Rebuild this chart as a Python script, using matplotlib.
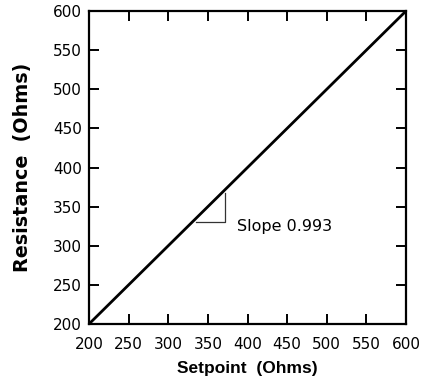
import matplotlib
matplotlib.use("Agg")
import matplotlib.pyplot as plt

setpoint = [200, 600]
resistance = [200, 600]
tri_x = [335, 372, 372]
tri_y = [330, 330, 368]
slope_label = "Slope 0.993"
ticks = [200, 250, 300, 350, 400, 450, 500, 550, 600]

plt.rcParams['font.family'] = ['DejaVu Sans']

fig = plt.figure(figsize=(4.23, 3.84), dpi=100)
ax = fig.add_axes([89/423, 1-324/384, (406-89)/423, (324-11)/384])

ax.plot(setpoint, resistance, color='black', lw=2.0, solid_capstyle='butt')
ax.plot(tri_x, tri_y, color='#333333', lw=0.9)
ax.text(387, 324, slope_label, fontsize=11.5, va='center', ha='left')

ax.set_xlim(200, 600)
ax.set_ylim(200, 600)
ax.set_xticks(ticks)
ax.set_yticks(ticks)
ax.tick_params(direction='in', length=7.2, width=1.4, top=True, right=True,
               labelsize=11)
ax.tick_params(axis='x', pad=9.5)
ax.tick_params(axis='y', pad=5)
for s in ax.spines.values():
    s.set_linewidth(1.6)

ax.set_xlabel("Setpoint  (Ohms)", fontsize=12.5, fontweight='bold', labelpad=6,
              family=['Liberation Sans', 'DejaVu Sans'])
ax.set_ylabel("Resistance  (Ohms)", fontsize=13.8, fontweight='bold', labelpad=15)

fig.savefig("out.png", dpi=100)
